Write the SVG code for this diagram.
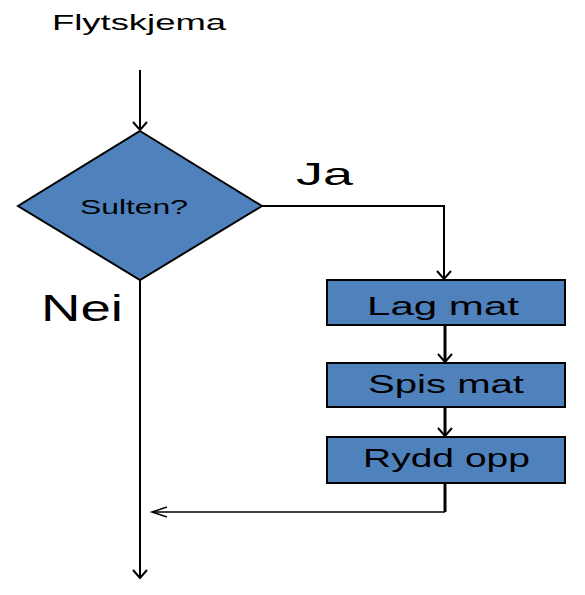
<svg xmlns="http://www.w3.org/2000/svg" width="585" height="595" viewBox="0 0 585 595">
<style>
  text { font-family: "Liberation Sans", Arial, sans-serif; fill: #000; }
  .node { fill: #4F81BD; stroke: #000; stroke-width: 2; }
  .conn { fill: none; stroke: #000; stroke-width: 2; }
  .thick { stroke-width: 3; }
  .thin { stroke-width: 1.5; }
</style>
<defs>
  <marker id="arrV" markerUnits="userSpaceOnUse" viewBox="-10 -8 11 16" refX="0" refY="0" markerWidth="11" markerHeight="16" orient="auto" overflow="visible">
    <path d="M-8,-7 L0,0 L-8,7" fill="none" stroke="#000" stroke-width="2"/>
  </marker>
  <marker id="arrH" markerUnits="userSpaceOnUse" viewBox="-16 -6 17 12" refX="0" refY="0" markerWidth="17" markerHeight="12" orient="auto" overflow="visible">
    <path d="M-15,-5 L0,0 L-15,5" fill="none" stroke="#000" stroke-width="1.5"/>
  </marker>
</defs>
<rect width="585" height="595" fill="#fff"/>
<text id="title" x="52" y="30" font-size="22" textLength="174" lengthAdjust="spacingAndGlyphs">Flytskjema</text>
<g id="connectors">
  <path class="conn" d="M140,70 V130" marker-end="url(#arrV)"/>
  <path class="conn" d="M262,206 H444 V279" marker-end="url(#arrV)"/>
  <path class="conn thick" d="M445,325 V362" marker-end="url(#arrV)"/>
  <path class="conn thick" d="M445,407 V436" marker-end="url(#arrV)"/>
  <path class="conn thick" d="M445,483 V512"/>
  <path class="conn thin" d="M445,512 H152" marker-end="url(#arrH)"/>
  <path class="conn" d="M140,280 V578" marker-end="url(#arrV)"/>
</g>
<text id="label-ja" x="296" y="185" font-size="32" textLength="57" lengthAdjust="spacingAndGlyphs">Ja</text>
<text id="label-nei" x="41" y="321" font-size="36" textLength="82" lengthAdjust="spacingAndGlyphs">Nei</text>
<g id="sulten">
  <polygon class="node" points="140,131 262,206 140,280 18,206"/>
  <text x="80" y="214" font-size="20" textLength="108" lengthAdjust="spacingAndGlyphs">Sulten?</text>
</g>
<g id="lag-mat">
  <rect class="node" x="327" y="280" width="238" height="45"/>
  <text x="367" y="315" font-size="26.5" textLength="152" lengthAdjust="spacingAndGlyphs">Lag mat</text>
</g>
<g id="spis-mat">
  <rect class="node" x="327" y="363" width="238" height="44"/>
  <text x="368" y="393" font-size="26.5" textLength="156" lengthAdjust="spacingAndGlyphs">Spis mat</text>
</g>
<g id="rydd-opp">
  <rect class="node" x="327" y="437" width="238" height="46"/>
  <text x="363" y="467" font-size="26.5" textLength="167" lengthAdjust="spacingAndGlyphs">Rydd opp</text>
</g>
</svg>
